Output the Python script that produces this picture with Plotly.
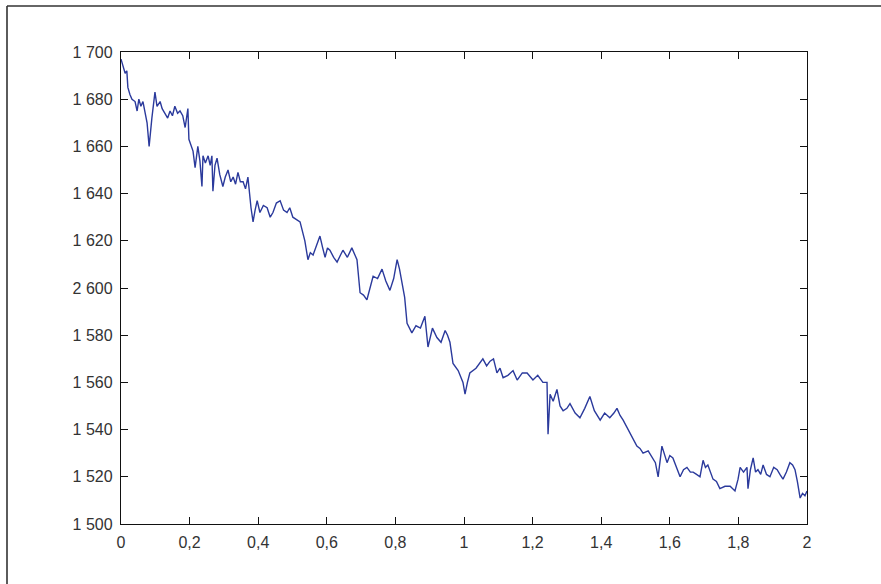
import plotly.graph_objects as go

# Price series read along the time axis (0 .. 2)
t = [0.000, 0.006, 0.012, 0.017, 0.020, 0.026, 0.032, 0.041, 0.047, 0.052,
     0.058, 0.064, 0.070, 0.076, 0.082, 0.086, 0.090, 0.099, 0.105, 0.114,
     0.120, 0.128, 0.136, 0.143, 0.150, 0.157, 0.165, 0.172, 0.180, 0.187,
     0.195, 0.198, 0.204, 0.210, 0.216, 0.224, 0.230, 0.236, 0.239, 0.246,
     0.254, 0.260, 0.265, 0.268, 0.274, 0.280, 0.288, 0.297, 0.304, 0.312,
     0.320, 0.327, 0.334, 0.341, 0.348, 0.356, 0.363, 0.370, 0.379, 0.385,
     0.391, 0.397, 0.405, 0.415, 0.426, 0.435, 0.443, 0.453, 0.464, 0.474,
     0.484, 0.492, 0.501, 0.512, 0.522, 0.536, 0.545, 0.552, 0.560, 0.570,
     0.580, 0.588, 0.595, 0.602, 0.609, 0.620, 0.630, 0.640, 0.647, 0.660,
     0.673, 0.682, 0.688, 0.697, 0.707, 0.717, 0.726, 0.735, 0.748, 0.761,
     0.772, 0.784, 0.795, 0.805, 0.812, 0.819, 0.827, 0.834, 0.841, 0.848,
     0.860, 0.873, 0.886, 0.895, 0.908, 0.921, 0.933, 0.945, 0.952, 0.959,
     0.968, 0.983, 0.997, 1.003, 1.010, 1.017, 1.035, 1.055, 1.066, 1.076,
     1.086, 1.096, 1.105, 1.114, 1.128, 1.143, 1.155, 1.170, 1.184, 1.201,
     1.215, 1.230, 1.242, 1.245, 1.251, 1.260, 1.271, 1.280, 1.289, 1.300,
     1.309, 1.324, 1.338, 1.352, 1.367, 1.380, 1.397, 1.410, 1.425, 1.437,
     1.446, 1.455, 1.464, 1.478, 1.493, 1.504, 1.513, 1.522, 1.537, 1.551,
     1.558, 1.566, 1.577, 1.592, 1.600, 1.609, 1.620, 1.630, 1.640, 1.650,
     1.660, 1.668, 1.678, 1.688, 1.697, 1.704, 1.711, 1.726, 1.736, 1.746,
     1.761, 1.776, 1.790, 1.799, 1.805, 1.815, 1.825, 1.828, 1.835, 1.843,
     1.850, 1.857, 1.865, 1.872, 1.882, 1.892, 1.903, 1.913, 1.921, 1.930,
     1.940, 1.950, 1.958, 1.965, 1.972, 1.980, 1.987, 1.994, 2.000]
price = [1697, 1694, 1691, 1692, 1685, 1682, 1680, 1679, 1675, 1680,
         1677, 1679, 1675, 1670, 1660, 1668, 1672, 1683, 1677, 1679,
         1676, 1674, 1672, 1675, 1673, 1677, 1674, 1675, 1673, 1668,
         1676, 1663, 1660, 1658, 1651, 1660, 1654, 1643, 1656, 1653,
         1656, 1652, 1656, 1641, 1652, 1655, 1648, 1643, 1647, 1650,
         1645, 1647, 1644, 1649, 1645, 1645, 1642, 1647, 1634, 1628,
         1633, 1637, 1632, 1635, 1634, 1630, 1632, 1636, 1637, 1633,
         1632, 1634, 1630, 1629, 1628, 1620, 1612, 1615, 1614, 1618,
         1622, 1617, 1613, 1617, 1616, 1613, 1611, 1614, 1616, 1613,
         1617, 1614, 1612, 1598, 1597, 1595, 1600, 1605, 1604, 1608,
         1603, 1599, 1604, 1612, 1608, 1602, 1596, 1585, 1583, 1581,
         1584, 1583, 1588, 1575, 1583, 1579, 1577, 1582, 1580, 1577,
         1568, 1565, 1560, 1555, 1560, 1564, 1566, 1570, 1567, 1569,
         1570, 1564, 1566, 1562, 1563, 1565, 1561, 1564, 1564, 1561,
         1563, 1560, 1560, 1538, 1555, 1552, 1557, 1550, 1548, 1549,
         1551, 1547, 1545, 1549, 1554, 1548, 1544, 1547, 1545, 1547,
         1549, 1546, 1544, 1540, 1536, 1533, 1532, 1530, 1531, 1528,
         1526, 1520, 1533, 1526, 1529, 1528, 1524, 1520, 1523, 1524,
         1522, 1522, 1521, 1520, 1527, 1524, 1525, 1519, 1518, 1515,
         1516, 1516, 1514, 1519, 1524, 1522, 1524, 1515, 1523, 1528,
         1522, 1523, 1521, 1525, 1521, 1520, 1524, 1523, 1521, 1519,
         1522, 1526, 1525, 1523, 1518, 1511, 1513, 1512, 1514]

# Axis ticks and their printed labels
x_ticks = [0, 0.2, 0.4, 0.6, 0.8, 1.0, 1.2, 1.4, 1.6, 1.8, 2.0]
x_labels = ["0", "0,2", "0,4", "0,6", "0,8", "1", "1,2", "1,4", "1,6", "1,8", "2"]
y_ticks = [1500, 1520, 1540, 1560, 1580, 1600, 1620, 1640, 1660, 1680, 1700]
y_labels = ["1 500", "1 520", "1 540", "1 560", "1 580", "2 600",
            "1 620", "1 640", "1 660", "1 680", "1 700"]

fig = go.Figure()
fig.add_trace(go.Scatter(
    x=t, y=price, mode="lines",
    line=dict(color="#2b3a9c", width=1.4),
    hoverinfo="skip",
))

axis_common = dict(
    showline=True, linecolor="#111111", linewidth=1.3, mirror="allticks",
    ticks="inside", ticklen=7, tickwidth=1.2, tickcolor="#111111",
    showgrid=False, zeroline=False, ticklabelstandoff=4,
    tickfont=dict(family="Liberation Sans, Arial, sans-serif", size=16, color="#333333"),
)

fig.update_xaxes(range=[0, 2], tickmode="array", tickvals=x_ticks,
                 ticktext=x_labels, **axis_common)
fig.update_yaxes(range=[1500, 1700], tickmode="array", tickvals=y_ticks,
                 ticktext=y_labels, **axis_common)

# Outer figure frame: its left and top edges lie inside the page
frame = dict(color="#333333", width=1.6)
fx = (7 - 121) / 686
fy = (524 - 6) / 472
fig.add_shape(type="line", xref="paper", yref="paper",
              x0=fx, x1=fx, y0=(524 - 600) / 472, y1=fy, line=frame)
fig.add_shape(type="line", xref="paper", yref="paper",
              x0=fx, x1=(900 - 121) / 686, y0=fy, y1=fy, line=frame)

fig.update_layout(
    width=881, height=584,
    margin=dict(l=121, r=74, t=52, b=60),
    paper_bgcolor="white", plot_bgcolor="white",
    showlegend=False,
)

fig.write_html("out.html")
